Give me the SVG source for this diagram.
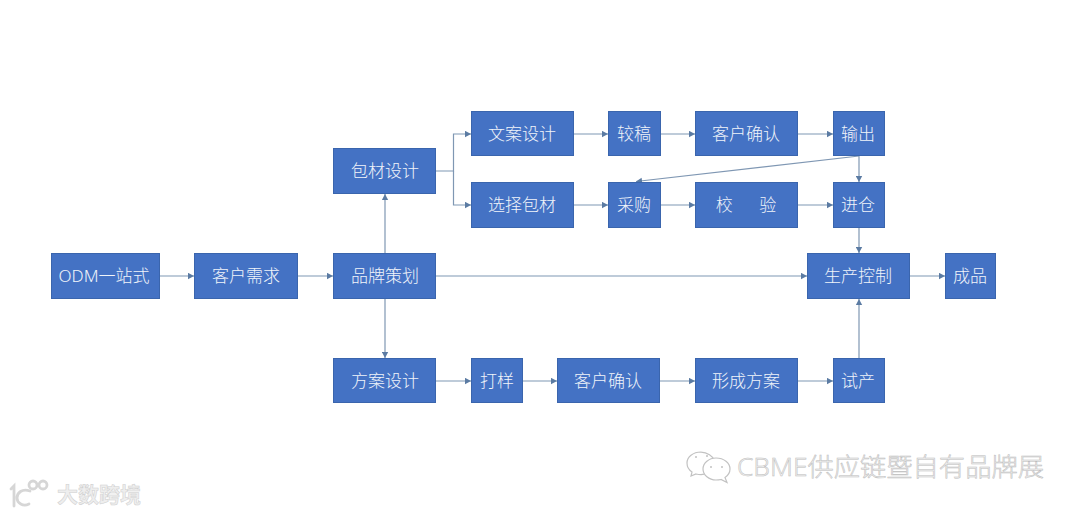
<svg xmlns="http://www.w3.org/2000/svg" width="1080" height="514" viewBox="0 0 1080 514">
<style>
.n{fill:#4472c4;stroke:#3a65ad;stroke-width:1}
.t{font-family:"Noto Sans","Noto Sans CJK SC",sans-serif;font-size:17px;fill:#f0f4fa;text-anchor:middle;font-weight:300}
.c{fill:none;stroke:#7f97b3;stroke-width:1.2}
.wm{font-family:"Noto Sans","Noto Sans CJK SC",sans-serif;font-weight:300;fill:#f0f0f0;stroke:#bdbdbd;stroke-width:.5}
.ws{fill:#fff;stroke:#c2c2c2;stroke-width:1.2}
.wd{fill:#c2c2c2}
.wl{fill:none;stroke:#d6d6d6;stroke-width:2.8;stroke-linecap:round}
</style>
<defs>
<marker id="a" markerUnits="userSpaceOnUse" markerWidth="7" markerHeight="7" refX="6" refY="3.5" orient="auto"><path d="M0 0.3L6 3.5L0 6.7z" fill="#5b7ba3"/></marker>
</defs>
<rect width="1080" height="514" fill="#fff"/>
<g id="connectors" class="c" marker-end="url(#a)">
<path d="M160 276H194"/>
<path d="M298 276H333"/>
<path d="M385 253V194"/>
<path d="M385 299V358"/>
<path d="M436 276H807"/>
<path d="M436 171H453.500V134H471"/>
<path d="M453.500 171V205H471"/>
<path d="M574 134H608"/>
<path d="M661 134H695"/>
<path d="M798 134H833"/>
<path d="M574 205H608"/>
<path d="M661 205H695"/>
<path d="M798 205H833"/>
<path d="M859 156V182"/>
<path d="M859 156L636 181.500"/>
<path d="M859 227.500V253"/>
<path d="M859 358V299"/>
<path d="M910 276H945"/>
<path d="M436 381H471"/>
<path d="M523 381H557"/>
<path d="M660 381H695"/>
<path d="M798 381H833"/>
</g>
<g id="n-odm"><rect class="n" x="51.500" y="253.500" width="108" height="45"/><text class="t" x="104" y="282">ODM一站式</text></g>
<g id="n-need"><rect class="n" x="194.500" y="253.500" width="103" height="45"/><text class="t" x="246" y="282">客户需求</text></g>
<g id="n-brand"><rect class="n" x="333.500" y="253.500" width="102" height="45"/><text class="t" x="385" y="282">品牌策划</text></g>
<g id="n-pack"><rect class="n" x="333.500" y="148.500" width="102" height="45"/><text class="t" x="385" y="177">包材设计</text></g>
<g id="n-copy"><rect class="n" x="471.500" y="111.500" width="102" height="44"/><text class="t" x="522" y="140">文案设计</text></g>
<g id="n-proof"><rect class="n" x="608.500" y="111.500" width="52" height="44"/><text class="t" x="634" y="140">较稿</text></g>
<g id="n-confirm1"><rect class="n" x="695.500" y="111.500" width="102" height="44"/><text class="t" x="746" y="140">客户确认</text></g>
<g id="n-output"><rect class="n" x="833.500" y="111.500" width="51" height="44"/><text class="t" x="858" y="140">输出</text></g>
<g id="n-select"><rect class="n" x="471.500" y="182.500" width="102" height="45"/><text class="t" x="522" y="211">选择包材</text></g>
<g id="n-buy"><rect class="n" x="608.500" y="182.500" width="52" height="45"/><text class="t" x="634" y="211">采购</text></g>
<g id="n-check"><rect class="n" x="695.500" y="182.500" width="102" height="45"/><text class="t" x="746" y="211" xml:space="preserve">校      验</text></g>
<g id="n-store"><rect class="n" x="833.500" y="182.500" width="51" height="45"/><text class="t" x="858" y="211">进仓</text></g>
<g id="n-control"><rect class="n" x="807.500" y="253.500" width="102" height="45"/><text class="t" x="858" y="282">生产控制</text></g>
<g id="n-done"><rect class="n" x="945.500" y="253.500" width="50" height="45"/><text class="t" x="970" y="282">成品</text></g>
<g id="n-plan"><rect class="n" x="333.500" y="358.500" width="102" height="44"/><text class="t" x="385" y="387">方案设计</text></g>
<g id="n-sample"><rect class="n" x="471.500" y="358.500" width="51" height="44"/><text class="t" x="497" y="387">打样</text></g>
<g id="n-confirm2"><rect class="n" x="557.500" y="358.500" width="102" height="44"/><text class="t" x="608" y="387">客户确认</text></g>
<g id="n-form"><rect class="n" x="695.500" y="358.500" width="102" height="44"/><text class="t" x="746" y="387">形成方案</text></g>
<g id="n-trial"><rect class="n" x="833.500" y="358.500" width="51" height="44"/><text class="t" x="858" y="387">试产</text></g>
<g id="wm-right">
<path class="ws" d="M701 452c-8 0-14 5-14 11 0 4 2 7 5 9l-1 4 5-2c2 .5 3 .7 5 .7l3-.5c3-6 6-11 11-13-2-5-8-9-14-9z"/>
<path class="ws" d="M716 458c-7 0-13 5-13 11s6 11 13 11c2 0 3 0 5-.5l6 3-2-5c3-2 5-5 5-8.500 0-6-6-11-14-11z"/>
<circle class="wd" cx="696" cy="457" r="1"/><circle class="wd" cx="707" cy="456" r="1"/><circle class="wd" cx="711" cy="467" r="1"/><circle class="wd" cx="722" cy="467" r="1"/>
<text class="wm" x="737" y="476" font-size="25" textLength="307" lengthAdjust="spacingAndGlyphs">CBME供应链暨自有品牌展</text>
</g>
<g id="wm-left">
<path class="wl" d="M11 489l3-3V506M30 491c-8-3-13 2-13 7s6 9 12 6"/>
<circle class="wl" cx="33" cy="485" r="4" stroke-width="2"/><circle class="wl" cx="43" cy="485" r="4" stroke-width="2"/>
<text x="57" y="502" font-family="'Noto Sans CJK SC',sans-serif" font-size="21" font-weight="700" fill="#eeeeee" stroke="#cfcfcf" stroke-width=".5">大数跨境</text>
</g>
</svg>
